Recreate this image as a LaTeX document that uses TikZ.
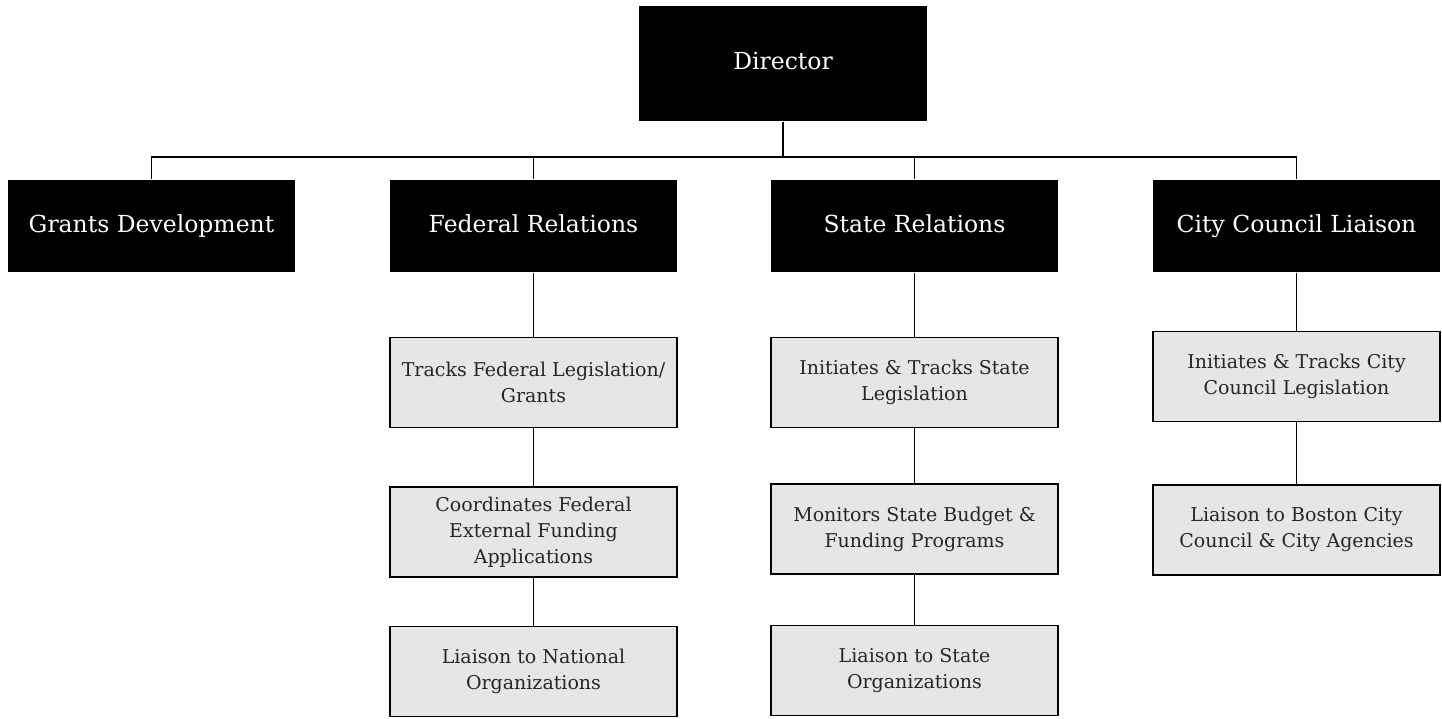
\documentclass[tikz,border=0pt]{standalone}
\usepackage{fontspec}
\setmainfont{DejaVu Serif}
\usetikzlibrary{positioning}
\definecolor{boxgray}{HTML}{E6E6E6}
\definecolor{textgray}{HTML}{262626}

\begin{document}
\begin{tikzpicture}[x=1pt, y=-1pt,
  every node/.style={rectangle, inner sep=0pt, line width=1.5pt, align=center},
  head/.style={fill=black, text=white, minimum width=287pt, minimum height=92pt, text height=17pt, text depth=5pt, font=\fontsize{23.5}{28}\selectfont},
  task/.style={draw=black, fill=boxgray, text=textgray, minimum width=287pt, minimum height=90pt, font=\fontsize{19}{26}\selectfont},
  link/.style={line width=1.8pt}]
  \useasboundingbox (0,0) rectangle (1442,718);
  \node[head, minimum width=288pt, minimum height=115pt] (dir) at (783,63.5) {Director};
  \node[head] (grants) at (151.5,226) {Grants Development};
  \node[head] (fed) at (533.5,226) {Federal Relations};
  \node[head] (state) at (914.5,226) {State Relations};
  \node[head] (city) at (1296.5,226) {City Council Liaison};
  \node[task, below = 64pt of fed] (fed1) {Tracks Federal Legislation/\\Grants};
  \node[task, below = 58pt of fed1] (fed2) {Coordinates Federal\\External Funding\\Applications};
  \node[task, below = 48pt of fed2] (fed3) {Liaison to National\\Organizations};
  \node[task, below = 64pt of state] (state1) {Initiates \& Tracks State\\Legislation};
  \node[task, below = 55pt of state1] (state2) {Monitors State Budget \&\\Funding Programs};
  \node[task, below = 50pt of state2] (state3) {Liaison to State\\Organizations};
  \node[task, below = 58pt of city] (city1) {Initiates \& Tracks City\\Council Legislation};
  \node[task, below = 62pt of city1] (city2) {Liaison to Boston City\\Council \& City Agencies};
  \coordinate (bus) at (dir.south |- 0,157);
  \draw[link] (dir.south) -- (bus);
  \draw[link] (grants.north) -- (grants.north |- bus) -- (city.north |- bus) -- (city.north);
  \foreach \n in {fed,state}
    \draw[link] (\n.north) -- (\n.north |- bus);
  \draw[link] (fed) -- (fed1) -- (fed2) -- (fed3);
  \draw[link] (state) -- (state1) -- (state2) -- (state3);
  \draw[link] (city) -- (city1) -- (city2);
\end{tikzpicture}
\end{document}
